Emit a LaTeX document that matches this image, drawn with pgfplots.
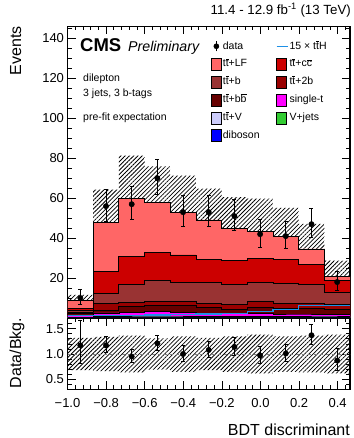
\documentclass[border=0pt]{standalone}
\usepackage{fontspec}
\setmainfont{Liberation Sans}
\usepackage{pgfplots}
\pgfplotsset{compat=1.18}
\usepackage{pgfplotstable}
\usepgfplotslibrary{fillbetween}
\usetikzlibrary{patterns.meta}

\definecolor{cLF}{HTML}{FF6666}
\definecolor{cCC}{HTML}{CC0000}
\definecolor{cB}{HTML}{993333}
\definecolor{cTwoB}{HTML}{990000}
\definecolor{cBB}{HTML}{660000}
\definecolor{cST}{HTML}{FF00FF}
\definecolor{cTV}{HTML}{CCCCFB}
\definecolor{cVJ}{HTML}{33CC33}
\definecolor{cDB}{HTML}{0000FF}
\definecolor{cTTH}{HTML}{1E90E6}

\newcommand{\ov}[1]{\ensuremath{\overline{\mbox{#1}}}}

% cumulative stack tops per bin (last row repeats the last bin)
\pgfplotstableread{
x       db    vj    tv    st    bb    btwo  b     cc    lf    up    lo    tth
-1.0000 0.05  0.25  0.6   1.5   2.1   2.7   4.0   5.0   8.8   11.6  6.0   1.3
-0.8669 0.05  0.35  0.9   2.6   4.0   7.2   12.3  23.1  48.0  64.3  31.7  1.3
-0.7338 0.05  0.40  1.0   3.0   5.8   7.8   17.0  30.8  59.8  81.3  38.3  1.4
-0.6007 0.05  0.40  1.0   3.2   6.2   8.3   18.8  32.8  58.0  76.0  40.0  1.6
-0.4676 0.05  0.40  1.0   3.0   6.2   8.3   17.8  31.6  52.8  71.3  34.3  1.7
-0.3345 0.05  0.35  0.9   2.4   5.3   7.5   17.6  29.5  49.1  64.8  33.4  2.0
-0.2015 0.05  0.35  0.9   2.4   4.5   7.0   17.0  28.8  44.8  60.5  29.1  2.4
-0.0684 0.05  0.30  0.9   2.2   5.5   8.3   18.0  30.0  43.3  59.8  26.8  3.3
 0.0647 0.05  0.30  0.9   2.0   5.0   7.2   17.1  29.1  40.8  55.1  26.5  4.2
 0.1978 0.05  0.30  1.0   2.0   5.0   7.5   16.6  26.6  34.6  47.1  22.1  6.2
 0.3309 0.05  0.30  1.0   1.8   4.2   6.6   13.0  18.8  20.8  28.7  12.9  6.2
 0.4640 0.05  0.30  1.0   1.8   4.2   6.6   13.0  18.8  20.8  28.7  12.9  6.2
}\stacktab

\pgfplotstableread{
x        y    ep   em
-0.9335  10   4.3  3.1
-0.8004  56   8.4  7.9
-0.6673  57   8.7  7.6
-0.5342  70   9.3  8.3
-0.4011  53   8.3  7.3
-0.2680  53   8.3  7.3
-0.1349  51   8.2  7.1
-0.0018  42   7.5  6.5
 0.1313  41   7.4  6.4
 0.2644  47   7.9  6.8
 0.3975  18   5.3  4.2
}\datatab

\pgfplotstableread{
x        y     ep    em
-0.9335  1.17  0.49  0.36
-0.8004  1.17  0.17  0.15
-0.6673  0.95  0.14  0.12
-0.5342  1.21  0.16  0.14
-0.4011  1.00  0.16  0.14
-0.2680  1.08  0.17  0.15
-0.1349  1.14  0.18  0.16
-0.0018  0.97  0.17  0.15
 0.1313  1.01  0.18  0.16
 0.2644  1.37  0.22  0.19
 0.3975  0.87  0.24  0.20
}\ratiotab

\pgfplotstableread{
x       up    lo
-1.0000 1.32  0.68
-0.8669 1.34  0.66
-0.7338 1.36  0.64
-0.6007 1.31  0.69
-0.4676 1.35  0.65
-0.3345 1.32  0.68
-0.2015 1.35  0.65
-0.0684 1.38  0.62
 0.0647 1.35  0.65
 0.1978 1.36  0.64
 0.3309 1.38  0.62
 0.4640 1.38  0.62
}\ratioband

\pgfplotsset{
  cmsaxis/.style={
    scale only axis,
    width=282.5pt,
    xmin=-1.0, xmax=0.464,
    tick align=inside,
    xtick pos=both, ytick pos=both,
    major tick length=8pt, minor tick length=4pt,
    every tick/.style={black, line width=0.7pt},
    axis line style={line width=1.1pt},
    ticklabel style={font=\fontsize{13}{13}\selectfont},
    /pgf/number format/assume math mode=true,
    xtick={-1,-0.8,-0.6,-0.4,-0.2,0,0.2,0.4},
    minor xtick={-0.96,-0.92,-0.88,-0.84,-0.76,-0.72,-0.68,-0.64,-0.56,-0.52,-0.48,-0.44,-0.36,-0.32,-0.28,-0.24,-0.16,-0.12,-0.08,-0.04,0.04,0.08,0.12,0.16,0.24,0.28,0.32,0.36,0.44},
  },
  errstyle/.style={only marks, mark=*, mark size=2.7pt, black,
    error bars/.cd, y dir=both, y explicit,
    error bar style={line width=1pt, black},
    error mark options={rotate=90, mark size=2pt, line width=1pt, black}},
  hatchstyle/.style={draw=none, pattern={Lines[angle=45,distance=3pt,line width=0.75pt]}, pattern color=black},
}

\begin{document}
\begin{tikzpicture}[x=1pt,y=1pt]

% ---------------- main panel ----------------
\begin{axis}[cmsaxis,
  at={(67.5pt,120pt)}, anchor=south west,
  height=291.5pt,
  ymin=0, ymax=146,
  ytick={20,40,60,80,100,120,140},
  minor ytick={5,10,15,25,30,35,45,50,55,65,70,75,85,90,95,105,110,115,125,130,135,145},
  xticklabels={},
  legend columns=2,
  legend cell align=left,
  legend style={at={(0.5075,0.955)}, anchor=north west, draw=none, fill=none,
    font=\fontsize{10.5}{12}\selectfont, row sep=5pt, inner sep=0pt,
    nodes={inner sep=1.2pt, text height=8pt, text depth=2.5pt},
    /tikz/every odd column/.append style={column sep=0pt},
    /tikz/every even column/.append style={column sep=15pt}},
]
\addlegendimage{legend image code/.code={\draw[black,line width=1pt] (5pt,-5pt) -- (5pt,5pt); \fill[black] (5pt,0pt) circle (2.6pt);}}
\addlegendentry{data}
\addlegendimage{legend image code/.code={\draw[draw=cTTH,line width=1.5pt] (0pt,0pt) -- (11pt,0pt);}}
\addlegendentry{15 × t\ov{t}H}
\addlegendimage{legend image code/.code={\draw[fill=cLF,draw=black,line width=0.6pt] (0pt,-6pt) rectangle (10pt,6pt);}}
\addlegendentry{t\ov{t}+LF}
\addlegendimage{legend image code/.code={\draw[fill=cCC,draw=black,line width=0.6pt] (0pt,-6pt) rectangle (10pt,6pt);}}
\addlegendentry{t\ov{t}+c\ov{c}}
\addlegendimage{legend image code/.code={\draw[fill=cB,draw=black,line width=0.6pt] (0pt,-6pt) rectangle (10pt,6pt);}}
\addlegendentry{t\ov{t}+b}
\addlegendimage{legend image code/.code={\draw[fill=cTwoB,draw=black,line width=0.6pt] (0pt,-6pt) rectangle (10pt,6pt);}}
\addlegendentry{t\ov{t}+2b}
\addlegendimage{legend image code/.code={\draw[fill=cBB,draw=black,line width=0.6pt] (0pt,-6pt) rectangle (10pt,6pt);}}
\addlegendentry{t\ov{t}+b\ov{b}}
\addlegendimage{legend image code/.code={\draw[fill=cST,draw=black,line width=0.6pt] (0pt,-6pt) rectangle (10pt,6pt);}}
\addlegendentry{single-t}
\addlegendimage{legend image code/.code={\draw[fill=cTV,draw=black,line width=0.6pt] (0pt,-6pt) rectangle (10pt,6pt);}}
\addlegendentry{t\ov{t}+V}
\addlegendimage{legend image code/.code={\draw[fill=cVJ,draw=black,line width=0.6pt] (0pt,-6pt) rectangle (10pt,6pt);}}
\addlegendentry{V+jets}
\addlegendimage{legend image code/.code={\draw[fill=cDB,draw=black,line width=0.6pt] (0pt,-6pt) rectangle (10pt,6pt);}}
\addlegendentry{diboson}

\addplot[forget plot, const plot, fill=cLF, draw=black, line width=0.8pt] table[x=x,y=lf]{\stacktab} \closedcycle;
\addplot[forget plot, const plot, fill=cCC, draw=black, line width=0.8pt] table[x=x,y=cc]{\stacktab} \closedcycle;
\addplot[forget plot, const plot, fill=cB, draw=black, line width=0.8pt] table[x=x,y=b]{\stacktab} \closedcycle;
\addplot[forget plot, const plot, fill=cTwoB, draw=black, line width=0.8pt] table[x=x,y=btwo]{\stacktab} \closedcycle;
\addplot[forget plot, const plot, fill=cBB, draw=black, line width=0.8pt] table[x=x,y=bb]{\stacktab} \closedcycle;
\addplot[forget plot, const plot, fill=cST, draw=black, line width=0.6pt] table[x=x,y=st]{\stacktab} \closedcycle;
\addplot[forget plot, const plot, fill=cTV, draw=black, line width=0.4pt] table[x=x,y=tv]{\stacktab} \closedcycle;
\addplot[forget plot, const plot, fill=cVJ, draw=black, line width=0.4pt] table[x=x,y=vj]{\stacktab} \closedcycle;
\addplot[forget plot, const plot, fill=cDB, draw=black, line width=0.4pt] table[x=x,y=db]{\stacktab} \closedcycle;
\addplot[forget plot, const plot, draw=cTTH, line width=1.4pt] table[x=x,y=tth]{\stacktab};

\addplot[forget plot, const plot, draw=none, name path=mup] table[x=x,y=up]{\stacktab};
\addplot[forget plot, const plot, draw=none, name path=mlo] table[x=x,y=lo]{\stacktab};
\addplot[forget plot, hatchstyle] fill between[of=mup and mlo];

\addplot[forget plot, errstyle] table[x=x,y=y,y error plus=ep,y error minus=em]{\datatab};
\end{axis}

% ---------------- ratio panel ----------------
\begin{axis}[cmsaxis,
  at={(67.5pt,48.5pt)}, anchor=south west,
  height=71.5pt,
  ymin=0.3, ymax=1.71,
  ytick={0.5,1.0,1.5},
  yticklabels={0.5,1.0,1.5},
  minor ytick={0.4,0.6,0.7,0.8,0.9,1.1,1.2,1.3,1.4,1.6,1.7},
  xticklabels={−1.0,−0.8,−0.6,−0.4,−0.2,0.0,0.2,0.4},
  xticklabel style={yshift=-5pt},
]
\addplot[const plot, draw=none, name path=rup] table[x=x,y=up]{\ratioband};
\addplot[const plot, draw=none, name path=rlo] table[x=x,y=lo]{\ratioband};
\addplot[hatchstyle] fill between[of=rup and rlo];
\addplot[gray, dashed, line width=0.8pt] coordinates {(-1.0,1.0) (0.464,1.0)};
\addplot[errstyle] table[x=x,y=y,y error plus=ep,y error minus=em]{\ratiotab};
\end{axis}

% ---------------- texts ----------------
\node[anchor=base east, inner sep=0pt, font=\fontsize{13.3}{14}\selectfont] at (351,423) {11.4 - 12.9 fb\textsuperscript{-1} (13 TeV)};
\node[anchor=base east, rotate=90, inner sep=0pt, font=\fontsize{16}{16}\selectfont] at (21,412) {Events};
\node[anchor=base, rotate=90, inner sep=0pt, font=\fontsize{16}{16}\selectfont] at (21,85) {Data/Bkg.};
\node[anchor=base east, inner sep=0pt, font=\fontsize{16}{16}\selectfont] at (350,2) {BDT discriminant};
\node[anchor=base west, inner sep=0pt, font=\fontsize{18.5}{20}\selectfont\bfseries] at (80,386) {CMS};
\node[anchor=base west, inner sep=0pt, font=\fontsize{14.2}{16}\selectfont\itshape] at (128,386) {Preliminary};
\node[anchor=base west, inner sep=0pt, font=\fontsize{10.5}{12}\selectfont] at (83,356) {dilepton};
\node[anchor=base west, inner sep=0pt, font=\fontsize{10.5}{12}\selectfont] at (83,341) {3 jets, 3 b-tags};
\node[anchor=base west, inner sep=0pt, font=\fontsize{10.5}{12}\selectfont] at (83,317) {pre-fit expectation};
\path (0,0) rectangle (353,438);
\end{tikzpicture}
\end{document}
